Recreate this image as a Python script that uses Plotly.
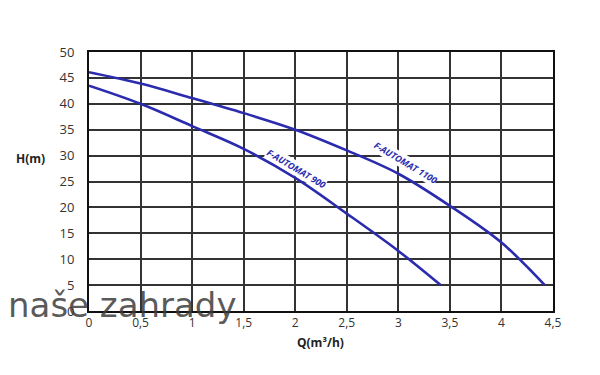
import plotly.graph_objects as go

q_1100 = [0, 0.5, 1, 1.5, 2, 2.5, 3, 3.5, 4, 4.42]
h_1100 = [46.1, 43.9, 41.1, 38.2, 35.0, 31.0, 26.5, 20.3, 13.2, 5]
q_900 = [0, 0.5, 1, 1.5, 2, 2.5, 3, 3.41]
h_900 = [43.5, 40.0, 35.7, 31.3, 25.7, 18.8, 11.6, 5]

x_ticks = [0, 0.5, 1, 1.5, 2, 2.5, 3, 3.5, 4, 4.5]
x_ticktext = ["0", "0,5", "1", "1,5", "2", "2,5", "3", "3,5", "4", "4,5"]
y_ticks = [0, 5, 10, 15, 20, 25, 30, 35, 40, 45, 50]

line_color = "#2b2bae"
font = "Open Sans, Liberation Sans, sans-serif"

fig = go.Figure()
fig.add_trace(go.Scatter(x=q_1100, y=h_1100, mode="lines", line=dict(color=line_color, width=2.6, shape="spline"), showlegend=False))
fig.add_trace(go.Scatter(x=q_900, y=h_900, mode="lines", line=dict(color=line_color, width=2.6, shape="spline"), showlegend=False))

fig.add_annotation(x=3.07, y=28.7, text="<b><i>F-AUTOMAT 1100</i></b>", showarrow=False, textangle=31,
                   font=dict(family=font, size=9, color=line_color), bgcolor="white", borderpad=0)
fig.add_annotation(x=2.01, y=27.5, text="<b><i>F-AUTOMAT 900</i></b>", showarrow=False, textangle=31,
                   font=dict(family=font, size=9, color=line_color), bgcolor="white", borderpad=0)

fig.add_annotation(xref="paper", yref="paper", x=-0.127, y=0.59, text="<b>H(m)</b>", showarrow=False,
                   font=dict(family=font, size=12, color="#222"), xanchor="center")
fig.add_annotation(xref="paper", yref="paper", x=0.499, y=-0.082, text="<b>Q(m³/h)</b>", showarrow=False,
                   font=dict(family=font, size=12, color="#222"), yanchor="top")

fig.add_annotation(xref="paper", yref="paper", x=-0.178, y=0.025, text="naše zahrady", showarrow=False,
                   xanchor="left", yanchor="middle",
                   font=dict(family="DejaVu Sans, sans-serif", size=34, color="rgba(60,60,60,0.85)"))

fig.update_xaxes(range=[0, 4.5], tickvals=x_ticks, ticktext=x_ticktext, showgrid=True, gridcolor="#333",
                 gridwidth=1.5, showline=True, linecolor="#111", linewidth=2, mirror=True, zeroline=False,
                 ticks="", tickfont=dict(family=font, size=12, color="#333"))
fig.update_yaxes(range=[0, 50], tickvals=y_ticks, showgrid=True, gridcolor="#333", gridwidth=1.5,
                 showline=True, linecolor="#111", linewidth=2, mirror=True, zeroline=False, ticks="",
                 ticklabelstandoff=10, tickfont=dict(family=font, size=13, color="#333"))

fig.update_layout(width=600, height=375, margin=dict(l=89, r=47, t=52, b=64),
                  plot_bgcolor="white", paper_bgcolor="white")

fig.write_html("out.html")
